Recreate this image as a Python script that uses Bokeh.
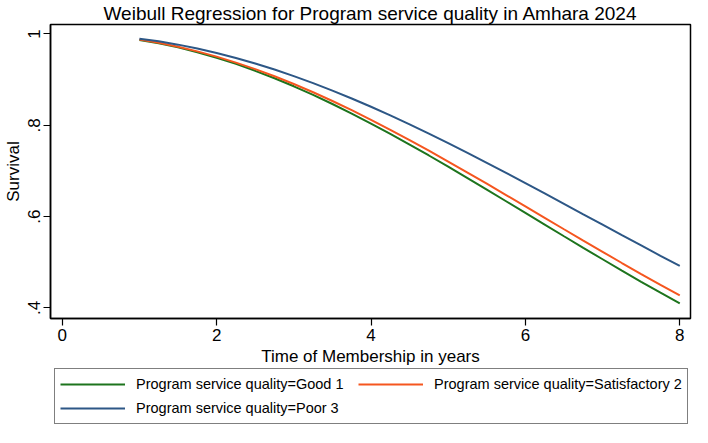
from bokeh.plotting import figure
from bokeh.layouts import column
from bokeh.models import Range1d, FixedTicker, Legend, LegendItem
from bokeh.embed import file_html
from bokeh.resources import INLINE

# Data
time_years = [1.0, 1.25, 1.5, 1.75, 2.0, 2.25, 2.5, 2.75, 3.0, 3.25, 3.5, 3.75, 4.0, 4.25,
              4.5, 4.75, 5.0, 5.25, 5.5, 5.75, 6.0, 6.25, 6.5, 6.75, 7.0, 7.25, 7.5, 7.75, 8.0]
surv_good = [0.9870, 0.9796, 0.9706, 0.9601, 0.9479, 0.9344, 0.9193, 0.9030, 0.8854, 0.8666,
             0.8466, 0.8257, 0.8038, 0.7812, 0.7578, 0.7339, 0.7093, 0.6844, 0.6592, 0.6337,
             0.6082, 0.5827, 0.5571, 0.5316, 0.5067, 0.4818, 0.4574, 0.4334, 0.4100]
surv_satisfactory = [0.9876, 0.9806, 0.9720, 0.9619, 0.9503, 0.9373, 0.9229, 0.9073, 0.8904,
                     0.8723, 0.8532, 0.8331, 0.8121, 0.7902, 0.7677, 0.7445, 0.7207, 0.6966,
                     0.6721, 0.6473, 0.6224, 0.5975, 0.5724, 0.5475, 0.5230, 0.4985, 0.4744,
                     0.4507, 0.4274]
surv_poor = [0.9896, 0.9838, 0.9766, 0.9681, 0.9584, 0.9474, 0.9353, 0.9221, 0.9077, 0.8923,
             0.8760, 0.8587, 0.8406, 0.8217, 0.8021, 0.7818, 0.7609, 0.7397, 0.7179, 0.6958,
             0.6733, 0.6508, 0.6280, 0.6050, 0.5824, 0.5595, 0.5369, 0.5143, 0.4921]
series_labels = ["Program service quality=Good 1",
                 "Program service quality=Satisfactory 2",
                 "Program service quality=Poor 3"]
x_ticks = [0, 2, 4, 6, 8]
y_ticks = [0.4, 0.6, 0.8, 1.0]
y_tick_labels = {0.4: ".4", 0.6: ".6", 0.8: ".8", 1.0: "1"}

FONT = "Liberation Sans"
colors = ["#1d741d", "#f5561f", "#2d5786"]

p = figure(width=692, height=368, output_backend="svg", toolbar_location=None,
           x_range=Range1d(-0.152, 8.139), y_range=Range1d(0.377, 1.0207),
           min_border_left=43, min_border_right=2, min_border_top=0,
           min_border_bottom=0)
p.title.text = "Weibull Regression for Program service quality in Amhara 2024"
p.title.text_font = FONT
p.title.text_font_size = "19px"
p.title.text_font_style = "normal"
p.title.text_color = "black"
p.title.align = "center"
p.title.standoff = 1
p.title.offset = 0

p.outline_line_color = "black"
p.outline_line_width = 1.5
p.xgrid.visible = False
p.ygrid.visible = False
p.background_fill_color = "white"
p.border_fill_color = "white"

for ax in (p.xaxis[0], p.yaxis[0]):
    ax.axis_line_color = "black"
    ax.axis_line_width = 1.5
    ax.major_tick_line_color = "black"
    ax.major_tick_line_width = 1.2
    ax.major_tick_out = 7
    ax.major_tick_in = 0
    ax.minor_tick_line_color = None
    ax.major_label_text_font = FONT
    ax.major_label_text_font_size = "17px"
    ax.major_label_text_color = "black"
    ax.axis_label_text_font = FONT
    ax.axis_label_text_font_size = "17px"
    ax.axis_label_text_font_style = "normal"
    ax.axis_label_text_color = "black"
    ax.major_label_standoff = 3
    ax.axis_label_standoff = 3

p.xaxis[0].ticker = FixedTicker(ticks=x_ticks)
p.xaxis[0].axis_label = "Time of Membership in years"
p.yaxis[0].ticker = FixedTicker(ticks=y_ticks)
p.yaxis[0].major_label_overrides = y_tick_labels
p.yaxis[0].major_label_orientation = "vertical"
p.yaxis[0].axis_label = "Survival"

series = [surv_good, surv_satisfactory, surv_poor]
for ys, c in zip(series, colors):
    p.line(time_years, ys, line_color=c, line_width=2)

# Legend-only figure beneath the plot (its lines lie outside its visible range)
pl = figure(width=692, height=59, output_backend="svg", toolbar_location=None,
            title=None, x_range=Range1d(-2, -1), y_range=Range1d(-2, -1),
            x_axis_location=None, y_axis_location=None,
            min_border_left=0, min_border_right=0, min_border_top=0, min_border_bottom=0)
pl.outline_line_color = None
pl.grid.visible = False
pl.background_fill_color = "white"
pl.border_fill_color = "white"
leg_renderers = [pl.line(time_years, ys, line_color=c, line_width=2)
                 for ys, c in zip(series, colors)]

legend = Legend(items=[LegendItem(label=lab, renderers=[r]) for lab, r in zip(series_labels, leg_renderers)],
                location=(4, 3), orientation="horizontal", ncols=2,
                label_text_font=FONT, label_text_font_size="14.5px", label_text_color="black",
                glyph_width=65, glyph_height=20, label_height=20, label_width=218,
                spacing=4, padding=5, margin=0, label_standoff=11,
                border_line_color="black", border_line_width=1.2,
                background_fill_alpha=1.0)
pl.add_layout(legend, "center")

layout = column(p, pl, spacing=0)
open("out.html", "w").write(file_html(layout, INLINE))
